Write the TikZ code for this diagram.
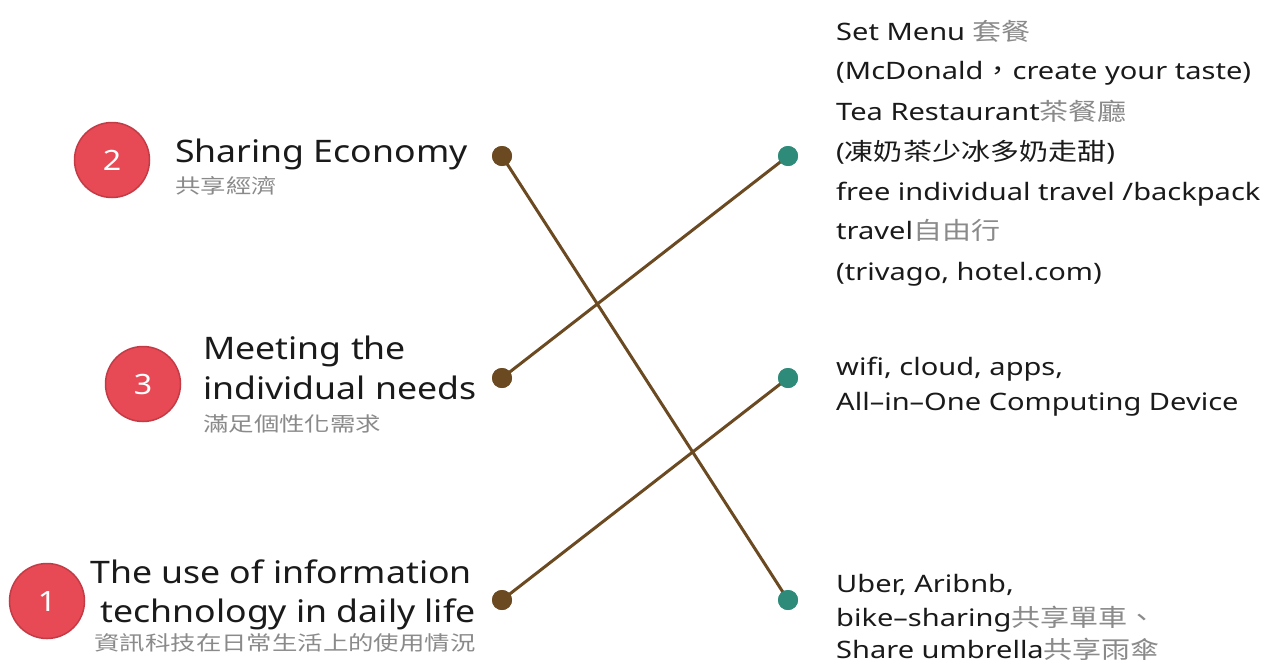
\documentclass[tikz,border=0pt]{standalone}
\usepackage{fontspec}
\setmainfont{Noto Sans}
\newfontfamily\cjk{Noto Sans CJK TC}
\definecolor{numred}{HTML}{E84A55}
\definecolor{numedge}{HTML}{C23B45}
\definecolor{brownline}{HTML}{6B4A22}
\definecolor{tealdot}{HTML}{2E8B7A}
\definecolor{maintext}{HTML}{1A1A1A}
\definecolor{subtext}{HTML}{8A8A8A}
\newcommand{\stretchx}[1]{\scalebox{1.15}[1]{#1}}
\newcommand{\stretchr}[1]{\scalebox{1.21}[1]{#1}}
\newcommand{\stretchz}[1]{\scalebox{1.27}[1]{#1}}
\tikzset{
  numcircle/.style={circle, fill=numred, draw=numedge, line width=1.5pt, minimum size=75pt, inner sep=0pt, text=white, font=\fontsize{28}{30}\selectfont},
  bdot/.style={circle, fill=brownline, minimum size=20pt, inner sep=0pt},
  gdot/.style={circle, fill=tealdot, minimum size=20pt, inner sep=0pt},
  link/.style={draw=brownline, line width=3pt},
  bigtxt/.style={inner sep=0pt, text=maintext, font=\fontsize{31}{36}\selectfont},
  subtxt/.style={inner sep=0pt, text=subtext, font=\cjk\fontsize{20}{24}\selectfont},
  rtxt/.style={inner sep=0pt, anchor=base west, text=maintext, font=\fontsize{24}{28}\selectfont},
}
\newcommand{\zh}[1]{{\cjk\color{subtext}#1}}
\begin{document}
\begin{tikzpicture}[x=1pt,y=-1pt]
\useasboundingbox[fill=white] (0,0) rectangle (1277,665);
% number circles
\node[numcircle] (c2) at (112,160) {\stretchx{2}};
\node[numcircle] (c3) at (143,384) {\stretchx{3}};
\node[numcircle] (c1) at (47,601) {\stretchx{1}};
% left texts
\node[bigtxt, anchor=base west] (t2) at (175,162) {\stretchx{Sharing Economy}};
\node[subtxt, anchor=base west] (s2) at (175,193) {\stretchz{共享經濟}};
\node[bigtxt, anchor=base west] (t3a) at (203,359) {\stretchx{Meeting the}};
\node[bigtxt, anchor=base west] (t3b) at (203,399) {\stretchx{individual needs}};
\node[subtxt, anchor=base west] (s3) at (203,431) {\stretchz{滿足個性化需求}};
\node[bigtxt, anchor=base] (t1a) at (281,583) {\stretchx{The use of information}};
\node[bigtxt, anchor=base] (t1b) at (288,622) {\stretchx{technology in daily life}};
\node[subtxt, anchor=base] (s1) at (285,650) {\stretchz{資訊科技在日常生活上的使用情況}};
% dots
\node[bdot] (b2) at (502,156) {};
\node[bdot] (b3) at (502,378) {};
\node[bdot] (b1) at (502,600) {};
\node[gdot] (g1) at (788,156) {};
\node[gdot] (g2) at (788,378) {};
\node[gdot] (g3) at (788,600) {};
% connectors
\draw[link] (b2.center) -- (g3.center);
\draw[link] (b3.center) -- (g1.center);
\draw[link] (b1.center) -- (g2.center);
\node[bdot] at (b2) {};
\node[bdot] at (b3) {};
\node[bdot] at (b1) {};
\node[gdot] at (g1) {};
\node[gdot] at (g2) {};
\node[gdot] at (g3) {};
% right texts
\node[rtxt] (r1) at (836,40) {\stretchr{Set Menu \zh{套餐}}};
\node[rtxt] (r2) at (836,79) {\stretchr{(McDonald{\cjk，}create your taste)}};
\node[rtxt] (r3) at (836,120) {\stretchr{Tea Restaurant\zh{茶餐廳}}};
\node[rtxt] (r4) at (836,160) {\stretchr{({\cjk 凍奶茶少冰多奶走甜})}};
\node[rtxt] (r5) at (836,200) {\stretchr{free individual travel /backpack}};
\node[rtxt] (r6) at (836,239) {\stretchr{travel\zh{自由行}}};
\node[rtxt] (r7) at (836,280) {\stretchr{(trivago, hotel.com)}};
\node[rtxt] (m1) at (836,375) {\stretchr{wifi, cloud, apps,}};
\node[rtxt] (m2) at (836,410) {\stretchr{All--in--One Computing Device}};
\node[rtxt] (u1) at (836,592) {\stretchr{Uber, Aribnb,}};
\node[rtxt] (u2) at (836,626) {\stretchr{bike--sharing\zh{共享單車、}}};
\node[rtxt] (u3) at (836,658) {\stretchr{Share umbrella\zh{共享雨傘}}};
\end{tikzpicture}
\end{document}
